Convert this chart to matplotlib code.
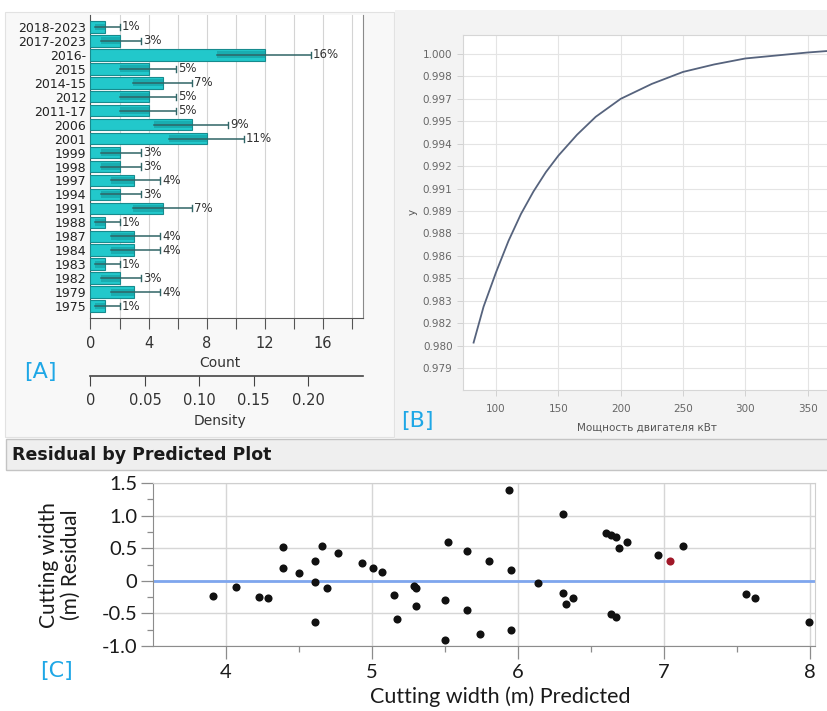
import matplotlib
matplotlib.use("Agg")
import matplotlib.pyplot as plt
from matplotlib.patches import Rectangle

# ---- panel A data ----
a_years = ["2018-2023", "2017-2023", "2016-", "2015", "2014-15", "2012", "2011-17",
           "2006", "2001", "1999", "1998", "1997", "1994", "1991", "1988", "1987",
           "1984", "1983", "1982", "1979", "1975"]
a_counts = [1, 2, 12, 4, 5, 4, 4, 7, 8, 2, 2, 3, 2, 5, 1, 3, 3, 1, 2, 3, 1]
a_lo = [0.3, 0.7, 8.7, 2.0, 2.9, 2.0, 2.0, 4.4, 5.4, 0.7, 0.7, 1.4, 0.7, 2.9,
        0.3, 1.4, 1.4, 0.3, 0.7, 1.4, 0.3]
a_hi = [2.0, 3.5, 15.2, 5.9, 7.0, 5.9, 5.9, 9.5, 10.6, 3.5, 3.5, 4.8, 3.5, 7.0,
        2.0, 4.8, 4.8, 2.0, 3.5, 4.8, 2.0]
a_pct = ["1%", "3%", "16%", "5%", "7%", "5%", "5%", "9%", "11%", "3%", "3%", "4%",
         "3%", "7%", "1%", "4%", "4%", "1%", "3%", "4%", "1%"]
a_total = 75
a_density_ticks = [0, 0.05, 0.10, 0.15, 0.20]
a_density_labels = ["0", "0.05", "0.10", "0.15", "0.20"]

# ---- panel B data ----
b_x = [82, 90, 100, 110, 120, 130, 140, 150, 165, 180, 200, 225, 250, 275, 300,
       325, 350, 366]
b_y = [0.9807, 0.9831, 0.9854, 0.9875, 0.9893, 0.9908, 0.9921, 0.9932, 0.9946,
       0.9958, 0.9970, 0.9980, 0.9988, 0.9993, 0.9997, 0.9999, 1.0001, 1.0002]
b_yticks = [1.0, 0.9985, 0.997, 0.9955, 0.994, 0.9925, 0.991, 0.9895, 0.988,
            0.9865, 0.985, 0.9835, 0.982, 0.9805, 0.979]
b_ytick_labels = ["1.000", "0.998", "0.997", "0.995", "0.994", "0.992", "0.991",
                  "0.989", "0.988", "0.986", "0.985", "0.983", "0.982", "0.980", "0.979"]
b_xticks = [100, 150, 200, 250, 300, 350]

# ---- panel C data ----
c_pred = [3.91, 4.07, 4.23, 4.29, 4.39, 4.39, 4.50, 4.61, 4.61, 4.61, 4.66, 4.69,
          4.77, 4.93, 5.01, 5.07, 5.15, 5.17, 5.29, 5.30, 5.30, 5.50, 5.50, 5.52,
          5.65, 5.65, 5.74, 5.80, 5.94, 5.95, 5.95, 6.14, 6.31, 6.31, 6.33, 6.38,
          6.60, 6.64, 6.67, 6.64, 6.67, 6.69, 6.75, 6.96, 7.13, 7.56, 7.62, 7.99]
c_resid = [-0.23, -0.09, -0.25, -0.27, 0.52, 0.20, 0.12, 0.31, -0.02, -0.63, 0.53,
           -0.11, 0.43, 0.27, 0.20, 0.13, -0.22, -0.58, -0.08, -0.11, -0.39, -0.30,
           -0.91, 0.60, 0.46, -0.45, -0.82, 0.31, 1.40, 0.16, -0.75, -0.03, 1.03,
           -0.18, -0.36, -0.27, 0.74, 0.70, 0.67, -0.51, -0.55, 0.50, 0.60, 0.39,
           0.53, -0.20, -0.27, -0.63]
c_sel_pred = [7.04]
c_sel_resid = [0.31]

W, H = 828, 711


def box(x0, y0, x1, y1):
    # pixel box (top-left origin) -> figure fraction
    return [x0 / W, 1 - y1 / H, (x1 - x0) / W, (y1 - y0) / H]


def rect(x0, y0, x1, y1, **kw):
    fig.add_artist(Rectangle((x0 / W, 1 - y1 / H), (x1 - x0) / W, (y1 - y0) / H,
                             transform=fig.transFigure, **kw))


fig = plt.figure(figsize=(W / 100, H / 100), dpi=100)
fig.patch.set_facecolor("white")

# backgrounds
rect(5, 12, 394, 437, facecolor="#f8f8f8", edgecolor="#e2e2e2", lw=0.8, zorder=0)
rect(395, 10, 830, 440, facecolor="#f3f3f3", edgecolor="none", zorder=0)
rect(6, 439, 830, 470, facecolor="#efefef", edgecolor="#c4c4c4", lw=1, zorder=0)

blue = "#1ea7e6"

# ---------------- panel A ----------------
ax = fig.add_axes(box(90.5, 15, 363, 318))
ax.set_facecolor("white")
ypos = list(range(len(a_years)))
ax.barh(ypos, a_counts, height=0.82, color="#22c8cb", edgecolor="#178b8e", lw=0.8,
        zorder=3)
inner = [c - l for c, l in zip(a_counts, a_lo)]
ax.barh(ypos, inner, left=a_lo, height=0.5, color="#12979a", alpha=0.55, lw=0,
        zorder=4)
for i in ypos:
    ax.plot([a_lo[i], a_hi[i]], [i, i], color="#2f6566", lw=1.1, zorder=5)
    ax.plot([a_hi[i], a_hi[i]], [i - 0.22, i + 0.22], color="#2f6566", lw=1.0,
            zorder=5)
    ax.text(a_hi[i] + 0.12, i, a_pct[i], va="center", ha="left", fontsize=8.5,
            color="#333333", zorder=6)
ax.set_ylim(len(a_years) - 1 + 0.86, -0.86)
ax.set_xlim(0, 18.78)
ax.set_yticks(ypos)
ax.set_yticklabels(a_years, fontsize=9, color="#222222")
ax.tick_params(axis="y", length=0, pad=3)
ax.set_xticks(range(0, 19, 2))
ax.set_xticklabels([str(v) if v % 4 == 0 else "" for v in range(0, 19, 2)],
                   fontsize=10.5, color="#333333")
ax.tick_params(axis="x", length=8, width=0.8, color="#555555", pad=5)
ax.grid(axis="x", color="#d4d4d4", lw=0.8, zorder=0)
ax.spines["top"].set_visible(False)
ax.spines["right"].set_color("#8a8a8a")
ax.spines["left"].set_color("#555555")
ax.spines["bottom"].set_color("#555555")
fig.text(220 / W, 1 - 363 / H, "Count", ha="center", va="center", fontsize=10,
         color="#333333")

axd = fig.add_axes(box(90.5, 375, 363, 376))
axd.set_xlim(0, 18.78 / a_total)
axd.set_yticks([])
axd.set_xticks(a_density_ticks)
axd.set_xticklabels(a_density_labels, fontsize=10.5, color="#333333")
axd.tick_params(axis="x", length=7, width=0.8, color="#444444", pad=5)
for s in ["top", "left", "right"]:
    axd.spines[s].set_visible(False)
axd.spines["bottom"].set_color("#444444")
axd.spines["bottom"].set_linewidth(1.2)
axd.patch.set_alpha(0)
fig.text(220 / W, 1 - 421 / H, "Density", ha="center", va="center", fontsize=10,
         color="#333333")
fig.text(40 / W, 1 - 372 / H, "[A]", ha="center", va="center", fontsize=16,
         color=blue)

# ---------------- panel B ----------------
bx = fig.add_axes(box(463, 35, 840, 390))
bx.set_facecolor("white")
bx.plot(b_x, b_y, color="#56637d", lw=1.3, zorder=3)
bx.set_xlim(73.5, 376)
bx.set_ylim(0.97753, 1.00127)
bx.set_yticks(b_yticks)
bx.set_yticklabels(b_ytick_labels, fontsize=7.5, color="#666666")
bx.set_xticks(b_xticks)
bx.set_xticklabels([str(v) for v in b_xticks], fontsize=7.5, color="#666666")
bx.tick_params(length=4, width=0.6, color="#cccccc")
bx.tick_params(axis="x", pad=6)
bx.grid(color="#e4e4e4", lw=0.8, zorder=0)
for s in bx.spines.values():
    s.set_color("#d6d6d6")
fig.text(647 / W, 1 - 428 / H, "Мощность двигателя кВт", ha="center", va="center",
         fontsize=7.5, color="#555555")
fig.text(413 / W, 1 - 212 / H, "y", ha="center", va="center", fontsize=7.5,
         rotation=90, color="#555555")
fig.text(417 / W, 1 - 421 / H, "[B]", ha="center", va="center", fontsize=16,
         color=blue)

# ---------------- panel C ----------------
fig.text(12 / W, 1 - 455 / H, "Residual by Predicted Plot", ha="left", va="center",
         fontsize=12.5, fontweight="bold", color="#1a1a1a")
cx = fig.add_axes(box(152.7, 483, 815, 646))
cx.set_facecolor("white")
cx.axhline(0, color="#7ea6ee", lw=2, zorder=2)
cx.scatter(c_pred, c_resid, s=34, color="#111111", zorder=4, linewidths=0)
cx.scatter(c_sel_pred, c_sel_resid, s=34, color="#a01828", zorder=4, linewidths=0)
cx.set_xlim(3.5, 8.034)
cx.set_ylim(-1.0, 1.5)
cx.set_yticks([-1.0, -0.5, 0, 0.5, 1.0, 1.5])
cx.set_yticklabels(["-1.0", "-0.5", "0", "0.5", "1.0", "1.5"])
cx.set_yticks([-0.75, -0.25, 0.25, 0.75, 1.25], minor=True)
cx.set_xticks([4, 5, 6, 7, 8])
cx.set_xticks([4.5, 5.5, 6.5, 7.5], minor=True)
for lab in cx.get_xticklabels() + cx.get_yticklabels():
    lab.set_family("Lato")
    lab.set_fontsize(14.5)
    lab.set_color("#1a1a1a")
cx.tick_params(which="major", length=9, width=0.9, color="#8c8c8c")
cx.tick_params(which="minor", length=4.5, width=0.9, color="#8c8c8c")
cx.tick_params(axis="y", pad=2)
cx.tick_params(axis="x", pad=4)
cx.grid(which="major", color="#d6d6d6", lw=1, zorder=0)
cx.spines["left"].set_color("#8c8c8c")
cx.spines["bottom"].set_color("#8c8c8c")
cx.spines["top"].set_color("#cfcfcf")
cx.spines["right"].set_color("#cfcfcf")
fig.text(500 / W, 1 - 697 / H, "Cutting width (m) Predicted", ha="center",
         va="center", fontsize=15.5, family="Lato", color="#1a1a1a")
fig.text(60 / W, 1 - 565 / H, "Cutting width\n(m) Residual", ha="center",
         va="center", fontsize=15, family="Lato", rotation=90, color="#1a1a1a",
         linespacing=1.1)
fig.text(57 / W, 1 - 671 / H, "[C]", ha="center", va="center", fontsize=16,
         color=blue)

fig.savefig("out.png", dpi=100)
